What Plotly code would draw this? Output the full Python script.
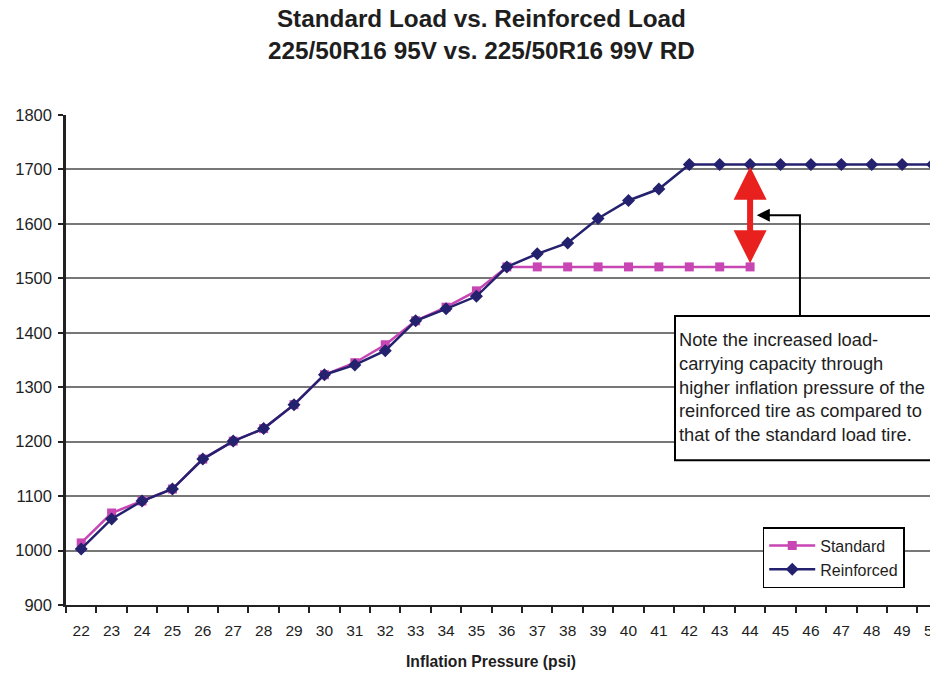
import plotly.graph_objects as go

pressure = list(range(22, 51))
standard_psi = list(range(22, 45))
standard_load = [1014, 1069, 1091, 1113, 1168, 1201, 1224, 1268, 1323, 1345, 1378,
                 1422, 1447, 1477, 1521, 1521, 1521, 1521, 1521, 1521, 1521, 1521, 1521]
reinforced_load = [1003, 1058, 1091, 1113, 1168, 1201, 1224, 1268, 1323, 1341, 1367,
                   1422, 1444, 1467, 1521, 1545, 1565, 1610, 1643, 1664, 1709, 1709,
                   1709, 1709, 1709, 1709, 1709, 1709, 1709]
y_ticks = list(range(900, 1801, 100))
title_lines = ["Standard Load vs. Reinforced Load", "225/50R16 95V vs. 225/50R16 99V RD"]
x_title = "Inflation Pressure (psi)"
note_text = ["Note the increased load-", "carrying capacity through",
             "higher inflation pressure of the", "reinforced tire as compared to",
             "that of the standard load tire."]

FONT = "Liberation Sans, Arial, sans-serif"
MAG = "#C845B4"
NAVY = "#24216E"
TXT = "#1e1e1e"

fig = go.Figure()
fig.add_trace(go.Scatter(x=standard_psi, y=standard_load, name="Standard",
                         mode="lines+markers",
                         line=dict(color=MAG, width=2.5),
                         marker=dict(symbol="square", size=9, color=MAG)))
fig.add_trace(go.Scatter(x=pressure, y=reinforced_load, name="Reinforced",
                         mode="lines+markers",
                         line=dict(color=NAVY, width=2.5),
                         marker=dict(symbol="diamond", size=10, color=NAVY)))

# red double arrow between curves at the end of the standard series
x_gap = standard_psi[-1]
y_top = reinforced_load[pressure.index(x_gap)]
y_bot = standard_load[-1]
fig.add_annotation(x=x_gap, y=y_top - 4, ax=x_gap, ay=y_bot + 4,
                   xref="x", yref="y", axref="x", ayref="y",
                   showarrow=True, arrowhead=2, arrowside="end+start",
                   arrowsize=1.1, arrowwidth=6, arrowcolor="#E8201E", text="")

# connector from note box to red arrow
fig.add_shape(type="path", xref="x", yref="y",
              path="M 45.64 1431 L 45.64 1616 L 44.45 1616",
              line=dict(color="black", width=2))
fig.add_annotation(x=44.22, y=1616, ax=44.7, ay=1616,
                   xref="x", yref="y", axref="x", ayref="y",
                   showarrow=True, arrowhead=2, arrowsize=1.3, arrowwidth=2,
                   arrowcolor="black", text="")

# note box
fig.add_shape(type="rect", xref="x", yref="y", x0=41.53, x1=49.99, y0=1166, y1=1431,
              line=dict(color="black", width=2), fillcolor="white", layer="above")
fig.add_annotation(x=41.6, y=1411, xref="x", yref="y", xanchor="left", yanchor="top",
                   showarrow=False, align="left",
                   text="<br>".join(note_text),
                   font=dict(family=FONT, size=18.3, color=TXT))

# title
fig.add_annotation(x=0.476, y=1.165, xref="paper", yref="paper",
                   xanchor="center", yanchor="middle", showarrow=False,
                   text="<b>" + "<br>".join(title_lines) + "</b>",
                   font=dict(family=FONT, size=24.3, color=TXT))
# x axis title
fig.add_annotation(x=0.487, y=-0.116, xref="paper", yref="paper",
                   xanchor="center", yanchor="middle", showarrow=False,
                   text="<b>" + x_title + "</b>",
                   font=dict(family=FONT, size=15.7, color=TXT))

# page body has an 8px margin: shrink the figure so the plot lands where the reference has it
fig.update_layout(
    width=930, height=667,
    margin=dict(l=58, r=0, t=107, b=70),
    paper_bgcolor="white", plot_bgcolor="white",
    font=dict(family=FONT, size=13, color=TXT),
    showlegend=True,
    legend=dict(x=0.799, y=0.159, xanchor="left", yanchor="top",
                bgcolor="white", bordercolor="black", borderwidth=1.5,
                font=dict(family=FONT, size=16, color=TXT),
                itemwidth=46, tracegroupgap=0),
    xaxis=dict(range=[21.5, 50.18], tickmode="array", tickvals=pressure,
               ticktext=[str(p) for p in pressure], ticks="",
               showgrid=False, zeroline=False, automargin=False,
               ticklabeloverflow="allow", ticklabelstandoff=10,
               showline=True, linecolor="#222", linewidth=2,
               tickfont=dict(size=15.5),
               minor=dict(tick0=21.5, dtick=1, ticks="outside", ticklen=6,
                          tickcolor="#222", tickwidth=1.5, showgrid=False)),
    yaxis=dict(range=[900, 1800], tickmode="array", tickvals=y_ticks,
               ticks="outside", ticklen=5, tickcolor="#222", tickwidth=1.5,
               ticklabelstandoff=3,
               showgrid=True, gridcolor="#777", gridwidth=1.5, automargin=False,
               zeroline=False, showline=True, linecolor="#222", linewidth=2.5,
               tickfont=dict(size=16.5)),
)

fig.write_html("out.html")
